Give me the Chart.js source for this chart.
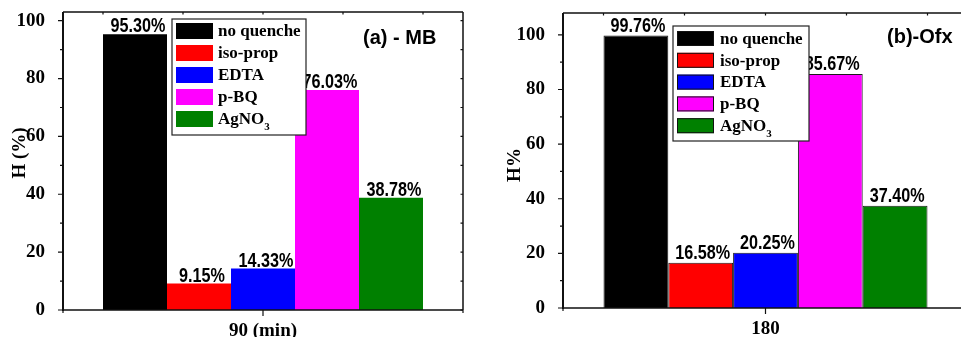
<!DOCTYPE html>
<html><head><meta charset="utf-8">
<script src="https://cdn.jsdelivr.net/npm/chart.js@4.4.1/dist/chart.umd.min.js"></script>
<style>
html,body{margin:0;padding:0;background:#fff;overflow:hidden;width:961px;height:337px;}
#wrap{position:relative;width:961px;height:337px;overflow:hidden;background:#fff;}
canvas{position:absolute;top:0;}
</style></head><body>
<div id="wrap">
<canvas id="ca" width="480" height="337" style="left:0;width:480px;height:337px"></canvas>
<canvas id="cb" width="500" height="337" style="left:480px;width:500px;height:337px"></canvas>
</div>
<script>
const seriesLabels = ['no quenche', 'iso-prop', 'EDTA', 'p-BQ', 'AgNO3'];
const seriesColors = ['#000000', '#ff0000', '#0000ff', '#ff00ff', '#008000'];
const categoriesA = ['90 (min)'];
const valuesA = [95.30, 9.15, 14.33, 76.03, 38.78];
const categoriesB = ['180'];
const valuesB = [99.76, 16.58, 20.25, 85.67, 37.40];
const yTickValues = [0, 20, 40, 60, 80, 100];
const yMinorValues = [10, 30, 50, 70, 90];
const titleA = '(a) - MB';
const titleB = '(b)-Ofx';
const yTitleA = 'H (%)';
const yTitleB = 'H%';

const SERIF = '"Liberation Serif", "Times New Roman", serif';
const SANS = '"Liberation Sans", Arial, sans-serif';

function decorPlugin(o) {
  return {
    id: 'decor',
    afterDraw(chart) {
      const ctx = chart.ctx, a = chart.chartArea, ys = chart.scales.y, xs = chart.scales.x;
      ctx.save();
      // value labels (condensed)
      ctx.font = 'bold 20px ' + SANS;
      ctx.fillStyle = '#000';
      ctx.textAlign = 'center';
      ctx.textBaseline = 'alphabetic';
      chart.data.datasets.forEach((ds, i) => {
        const bar = chart.getDatasetMeta(i).data[0];
        ctx.save();
        ctx.translate(bar.x + o.labelDx, bar.y - o.labelDy);
        ctx.scale(0.81, 1);
        ctx.fillText(ds.data[0].toFixed(2) + '%', 0, 0);
        ctx.restore();
      });
      // frame
      ctx.strokeStyle = '#111';
      ctx.lineWidth = 1.5;
      ctx.beginPath();
      ctx.moveTo(a.left, a.top); ctx.lineTo(a.right, a.top);
      ctx.moveTo(a.left, a.bottom); ctx.lineTo(a.right, a.bottom);
      ctx.moveTo(a.right, a.top); ctx.lineTo(a.right, a.bottom);
      ctx.stroke();
      ctx.lineWidth = 2;
      ctx.beginPath();
      ctx.moveTo(a.left, a.top); ctx.lineTo(a.left, a.bottom + 1);
      ctx.stroke();
      // ticks
      ctx.lineWidth = 1.2;
      ctx.beginPath();
      yTickValues.forEach(v => { const y = ys.getPixelForValue(v); ctx.moveTo(a.left - 5, y); ctx.lineTo(a.left, y); });
      yMinorValues.forEach(v => { const y = ys.getPixelForValue(v); ctx.moveTo(a.left - 3, y); ctx.lineTo(a.left, y); });
      yTickValues.concat(yMinorValues).forEach(v => { const y = ys.getPixelForValue(v); ctx.moveTo(a.right - 2.5, y); ctx.lineTo(a.right, y); });
      [0.1, 0.3, 0.5, 0.7, 0.9].forEach(f => { const x = a.left + f * (a.right - a.left); ctx.moveTo(x, a.top); ctx.lineTo(x, a.top + 2.5); });
      const cx = xs.getPixelForValue(0);
      ctx.moveTo(cx, a.bottom); ctx.lineTo(cx, a.bottom + 6);
      ctx.moveTo(a.left, a.bottom); ctx.lineTo(a.left, a.bottom + 3);
      ctx.moveTo(a.right, a.bottom); ctx.lineTo(a.right, a.bottom + 3);
      ctx.stroke();
      // panel title
      ctx.font = 'bold 20px ' + SANS;
      ctx.textAlign = 'left';
      ctx.textBaseline = 'middle';
      ctx.fillStyle = '#000';
      ctx.fillText(o.title, o.titleX, o.titleY);
      // y title
      ctx.save();
      ctx.translate(o.yTitleX, o.yTitleY);
      ctx.rotate(-Math.PI / 2);
      ctx.font = 'bold 19px ' + SERIF;
      ctx.textAlign = 'center';
      ctx.textBaseline = 'middle';
      ctx.fillText(o.yTitle, 0, 0);
      ctx.restore();
      // legend
      const L = o.legend;
      ctx.fillStyle = '#fff';
      ctx.fillRect(L.x, L.y, L.w, L.h);
      ctx.strokeStyle = '#222';
      ctx.lineWidth = 1.2;
      ctx.strokeRect(L.x, L.y, L.w, L.h);
      chart.data.datasets.forEach((ds, i) => {
        const sy = L.sy + i * L.step;
        ctx.fillStyle = ds.backgroundColor;
        ctx.fillRect(L.sx, sy, L.sw, L.sh);
        if (o.swatchBorder) {
          ctx.strokeStyle = '#111'; ctx.lineWidth = 1;
          ctx.strokeRect(L.sx + 0.5, sy + 0.5, L.sw - 1, L.sh - 1);
        }
        ctx.fillStyle = '#000';
        ctx.font = 'bold 17px ' + SERIF;
        ctx.textAlign = 'left';
        ctx.textBaseline = 'middle';
        const m = ds.label.match(/^(.*?[A-Za-z])(\d+)$/);
        const ty = sy + L.sh / 2 + 1;
        if (m) {
          ctx.fillText(m[1], L.tx, ty);
          const w = ctx.measureText(m[1]).width;
          ctx.font = 'bold 11px ' + SERIF;
          ctx.fillText(m[2], L.tx + w, ty + 7);
        } else {
          ctx.fillText(ds.label, L.tx, ty);
        }
      });
      ctx.restore();
    }
  };
}

function makeChart(id, cats, vals, o) {
  const datasets = seriesLabels.map((lab, i) => ({
    label: lab,
    data: [vals[i]],
    backgroundColor: seriesColors[i],
    borderColor: '#1a1a1a',
    borderWidth: o.barBorder,
    barPercentage: 1.0,
    categoryPercentage: 0.8
  }));
  return new Chart(document.getElementById(id), {
    type: 'bar',
    data: { labels: cats, datasets },
    options: {
      responsive: false,
      animation: false,
      devicePixelRatio: 1,
      layout: { padding: { left: 0, top: o.padTop, right: o.padRight, bottom: 0 } },
      plugins: { legend: { display: false }, tooltip: { enabled: false } },
      scales: {
        x: {
          grid: { display: false },
          border: { display: false },
          ticks: { color: '#000', font: { family: SERIF, size: 19, weight: 'bold' }, padding: o.xPad },
          afterFit(s) { s.height = o.xHeight; s.paddingLeft = 0; s.paddingRight = 0; }
        },
        y: {
          min: 0, max: o.yMax,
          grid: { display: false },
          border: { display: false },
          ticks: { stepSize: 20, color: '#000', font: { family: SERIF, size: 19, weight: 'bold' }, padding: 10 },
          afterBuildTicks(s) { s.ticks = yTickValues.map(v => ({ value: v })); },
          afterFit(s) { s.width = o.yWidth; s.paddingTop = 0; s.paddingBottom = 0; }
        }
      }
    },
    plugins: [decorPlugin(o)]
  });
}

makeChart('ca', categoriesA, valuesA, {
  barBorder: 0, padTop: 12, padRight: 17, xHeight: 27, yWidth: 63, yMax: 103, xPad: 2,
  labelDx: 3, labelDy: 2,
  title: titleA, titleX: 363, titleY: 38,
  yTitle: yTitleA, yTitleX: 20, yTitleY: 153,
  swatchBorder: false,
  legend: { x: 172, y: 19, w: 134, h: 116, sx: 176, sy: 23, sw: 37, sh: 16, step: 22, tx: 218 }
});

makeChart('cb', categoriesB, valuesB, {
  barBorder: 1, padTop: 13, padRight: 12, xHeight: 29, yWidth: 83, yMax: 108, xPad: 2,
  labelDx: 2, labelDy: 4,
  title: titleB, titleX: 407, titleY: 37,
  yTitle: yTitleB, yTitleX: 35, yTitleY: 165,
  swatchBorder: true,
  legend: { x: 193, y: 26, w: 136, h: 115, sx: 197, sy: 31, sw: 37, sh: 15, step: 21.8, tx: 240 }
});
</script>
</body></html>
